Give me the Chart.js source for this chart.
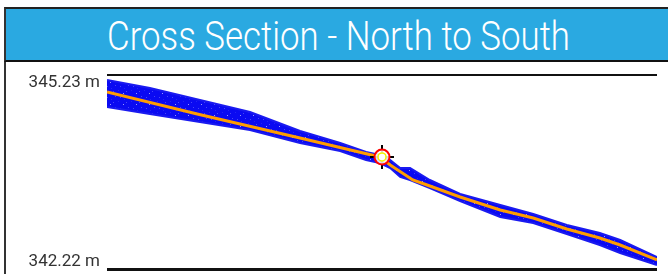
<!DOCTYPE html>
<html><head><meta charset="utf-8">
<script src="https://cdn.jsdelivr.net/npm/chart.js@4"></script>
<style>
html,body{margin:0;padding:0;background:#fff;width:668px;height:274px;overflow:hidden;}
#frame{position:absolute;left:4px;top:7px;width:2px;height:267px;background:#333;}
#title{position:absolute;left:4px;top:7px;width:664px;height:51px;background:#2aa9e1;border-top:2px solid #222;border-bottom:2px solid #111;border-left:2px solid #333;overflow:hidden;}
#title span{position:absolute;left:0;top:0;white-space:nowrap;color:#fff;font-family:Roboto,"Liberation Sans",sans-serif;font-weight:300;font-size:41px;line-height:54px;transform-origin:0 0;}
#wrap{position:absolute;left:0;top:62px;width:668px;height:212px;}
</style></head>
<body>
<div id="frame"></div>
<div id="title"><span id="tt">Cross Section - North to South</span></div>
<div id="wrap"><canvas id="c" width="668" height="212"></canvas></div>
<script>
// distance along section (0-100 %) and elevation (m)
const bandX      = [0, 7.8, 16.9, 26.0, 35.1, 42.4, 47.1, 49.6, 51.5, 53.3, 55.1, 58.7, 64.2, 71.5, 77.5, 83.6, 89.6, 93.3, 100];
const upperElev  = [345.152, 345.028, 344.842, 344.656, 344.361, 344.175, 344.035, 343.989, 343.911, 343.787, 343.787, 343.601, 343.384, 343.213, 343.073, 342.903, 342.779, 342.670, 342.406];
const lowerElev  = [344.734, 344.625, 344.501, 344.377, 344.175, 344.051, 343.911, 343.865, 343.787, 343.648, 343.601, 343.477, 343.275, 343.027, 342.934, 342.763, 342.592, 342.468, 342.282];
const profileX    = [0, 16.4, 35.1, 49.6, 51.5, 55.6, 58.2, 64.2, 71.5, 77.5, 83.6, 89.6, 93.3, 100];
const profileElev = [344.966, 344.625, 344.253, 343.958, 343.834, 343.601, 343.523, 343.337, 343.136, 343.011, 342.841, 342.701, 342.592, 342.360];
const markerX    = [50.0];
const markerElev = [343.958];
const yTickValues = [342.22, 345.23];

// title: fit condensed width like reference
(function () {
  const tt = document.getElementById('tt');
  const w = tt.getBoundingClientRect().width;
  tt.style.transform = 'scaleX(' + (463 / w) + ')';
  tt.style.left = '101px';
})();

// subtle speckled blue texture for the point cloud
function speckle() {
  const p = document.createElement('canvas');
  p.width = 13; p.height = 11;
  const g = p.getContext('2d');
  g.fillStyle = '#0a0af2'; g.fillRect(0, 0, 13, 11);
  g.fillStyle = '#4646f6'; g.fillRect(3, 2, 1, 1); g.fillRect(9, 7, 1, 1); g.fillRect(11, 1, 1, 1);
  g.fillStyle = '#9a9afb'; g.fillRect(6, 9, 1, 1);
  g.fillStyle = '#2323f4'; g.fillRect(1, 6, 1, 1); g.fillRect(7, 4, 1, 1);
  return g.createPattern(p, 'repeat');
}

const toPts = (xs, ys) => xs.map((x, i) => ({x: x, y: ys[i]}));
const marker = toPts(markerX, markerElev);
const fmt = v => v.toFixed(2) + ' m';

new Chart(document.getElementById('c'), {
  type: 'line',
  data: {datasets: [
    {data: toPts(bandX, upperElev), borderColor: '#1a1af0', backgroundColor: speckle(), borderWidth: 2, pointRadius: 0, fill: '+1', order: 6},
    {data: toPts(bandX, lowerElev), borderColor: '#1a1af0', borderWidth: 2, pointRadius: 0, fill: false, order: 5},
    {data: toPts(profileX, profileElev), borderColor: '#ff9d00', borderWidth: 3, pointRadius: 0, fill: false, order: 4},
    {data: marker, showLine: false, pointStyle: 'cross', pointRadius: 12, borderColor: '#000', pointBorderColor: '#000', borderWidth: 2, order: 3},
    {data: marker, showLine: false, pointStyle: 'circle', pointRadius: 7.5, borderColor: '#ff0000', pointBorderColor: '#ff0000', pointBackgroundColor: 'rgba(255,255,255,0.85)', borderWidth: 2, order: 2},
    {data: marker, showLine: false, pointStyle: 'circle', pointRadius: 4, borderColor: '#f2f200', pointBorderColor: '#f2f200', pointBackgroundColor: '#ffffff', borderWidth: 1.5, order: 1}
  ]},
  options: {
    responsive: false, animation: false, events: [],
    layout: {autoPadding: false, padding: {left: 0, right: 11, top: 13, bottom: 5}},
    plugins: {legend: {display: false}, tooltip: {enabled: false}},
    scales: {
      x: {type: 'linear', min: 0, max: 100, display: false},
      y: {
        type: 'linear', min: 342.22, max: 345.23,
        afterBuildTicks: s => { s.ticks = yTickValues.map(v => ({value: v})); },
        afterFit: s => { s.width = 107; s.paddingTop = 0; s.paddingBottom = 0; },
        grid: {drawTicks: false, color: '#111', lineWidth: c => c.index === 0 ? 3 : 2},
        border: {display: false},
        ticks: {
          padding: 7, color: '#333',
          font: {family: 'Roboto', size: 17, lineHeight: 0.9},
          callback: v => v === yTickValues[1] ? ['', fmt(v)] : [fmt(v), '']
        }
      }
    }
  }
});
</script>
</body></html>
